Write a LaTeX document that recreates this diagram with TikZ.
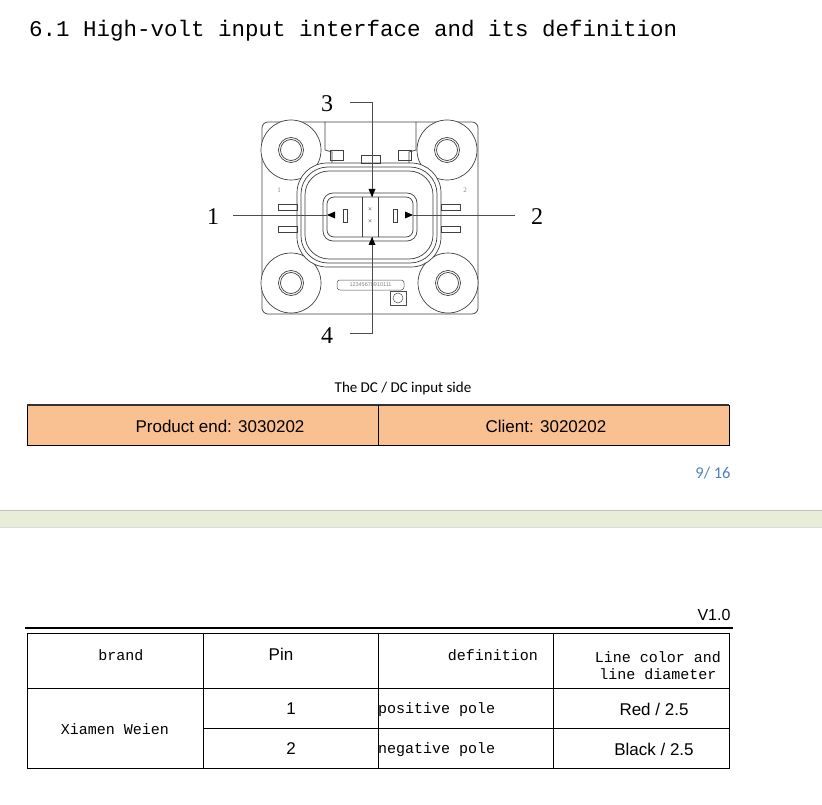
\documentclass[tikz,border=0pt]{standalone}
\usepackage{fontspec}
\setmainfont{Liberation Serif}
\newfontfamily\mono{Liberation Mono}
\newfontfamily\sans{Liberation Sans}
\newfontfamily\carl{Carlito}
\definecolor{peach}{RGB}{249,192,145}
\definecolor{pgblue}{RGB}{79,129,189}
\definecolor{band}{RGB}{232,237,218}
\begin{document}
\begin{tikzpicture}[x=1pt,y=-1pt,
  dr/.style={line width=0.7pt,black!75},
  thin/.style={line width=0.5pt,black!70},
  tri/.style={fill=black},
  cell/.style={line width=0.6pt},
  mt/.style={font=\mono\fontsize{15}{17}\selectfont},
  st/.style={font=\sans\fontsize{17}{19}\selectfont}]
\useasboundingbox (0,0) rectangle (822,805);
\node[anchor=west,inner sep=0,font=\mono\fontsize{22.5}{24}\selectfont] (title) at (29,31) {6.1 High-volt input interface and its definition};
% connector body
\draw[dr,rounded corners=6] (262,122) rectangle (478,314);
\foreach \n/\x/\y in {a/291/150,b/447/150,c/291/283,d/448/283}{
  \draw[dr,fill=white] (\x,\y) circle (30);
  \draw[dr] (\x,\y) circle (12.5);
  \draw[dr] (\x,\y) circle (10.5);
}
\draw[dr,fill=white,rounded corners=30] (297,163) rectangle (441,267);
\draw[dr,rounded corners=27] (301,167) rectangle (437,263);
\draw[dr,rounded corners=24] (305,171) rectangle (433,259);
% top tabs
\draw[dr] (325,122) -- (325,150) -- (332,152) -- (332,163);
\draw[dr] (416,122) -- (416,150) -- (409,152) -- (409,163);
\draw[dr] (330,150) rectangle (343,160);
\draw[dr] (398,150) rectangle (411,160);
\draw[dr] (361,155) rectangle (380,163);
% side tabs
\draw[dr] (278,204) rectangle (297,210); \draw[dr] (278,226) rectangle (297,232);
\draw[dr] (441,204) rectangle (460,210); \draw[dr] (441,226) rectangle (460,232);
\node[font=\fontsize{7}{8}\selectfont,gray] (s1) at (279,190) {1};
\node[font=\fontsize{7}{8}\selectfont,gray] (s2) at (465,190) {2};
% pin housing
\draw[dr,rounded corners=10] (323,193) rectangle (417,241);
\draw[dr,rounded corners=7] (327,197) rectangle (413,237);
\draw[dr] (362,197) -- (362,237); \draw[dr] (378,197) -- (378,237);
\draw[dr] (343,209) rectangle (347,222); \draw[dr] (393,209) rectangle (397,222);
\node[font=\fontsize{5}{6}\selectfont] (x1) at (370,209) {$\times$};
\node[font=\fontsize{5}{6}\selectfont] (x2) at (370,221) {$\times$};
% leaders
\node[font=\fontsize{24}{26}\selectfont] (n1) at (213,217) {1};
\node[font=\fontsize{24}{26}\selectfont] (n2) at (537,217) {2};
\node[font=\fontsize{24}{26}\selectfont] (n3) at (327,104) {3};
\node[font=\fontsize{24}{26}\selectfont] (n4) at (327,336) {4};
\coordinate (p1) at (327,215); \coordinate (p2) at (413,215);
\coordinate (p3) at (372,197); \coordinate (p4) at (372,237);
\draw[thin] (233,215) -- (p1); \draw[thin] (p2) -- (515,215);
\draw[thin] (350,102) -- (372,102) -- (p3);
\draw[thin] (350,333) -- (372,333) -- (p4);
\fill[tri] (p1) -- ++(8,-3.5) -- ++(0,7) -- cycle;
\fill[tri] (p2) -- ++(-8,-3.5) -- ++(0,7) -- cycle;
\fill[tri] (p3) -- ++(-3.5,-8) -- ++(7,0) -- cycle;
\fill[tri] (p4) -- ++(-3.5,8) -- ++(7,0) -- cycle;
\draw[thin,rounded corners=3] (337,280) rectangle (404,290);
\node[font=\sans\fontsize{5.5}{6}\selectfont,gray] (code) at (370.5,285) {12345678910111};
\draw[thin] (390,291) rectangle (406,305);
\draw[thin] (398,298) circle (5);
% caption and table 1
\node[font=\carl\fontsize{15}{17}\selectfont] (cap) at (403,388) {The DC / DC input side};
\fill[peach] (27,405) rectangle (729,445);
\draw[cell] (27,405) rectangle (729,445);
\draw[line width=1.5pt,black!80] (27,405) -- (729,405);
\draw[cell] (378,405) -- (378,445);
\node[st] (pe) at (220,426) {Product end: 3030202};
\node[st] (cl) at (546,426) {Client: 3020202};
\node[font=\carl\fontsize{16.5}{18}\selectfont,text=pgblue] (pg) at (713,473) {9/ 16};
% band
\fill[band] (0,510) rectangle (822,527);
\draw[black!25,line width=0.8pt] (0,510) -- (822,510);
\draw[black!15,line width=0.6pt] (0,527) -- (822,527);
% table 2
\node[font=\sans\fontsize{16}{18}\selectfont] (v) at (714,615) {V1.0};
\draw[line width=1.4pt] (25,628) -- (733,628);
\draw[cell] (27,633) rectangle (729,768);
\draw[cell] (27,688) -- (729,688);
\draw[cell] (203,728) -- (729,728);
\foreach \x in {203,378,553} \draw[cell] (\x,633) -- (\x,768);
\node[mt] (h1) at (121,655) {brand};
\node[st] (h2) at (281,654) {Pin};
\node[mt] (h3) at (493,655) {definition};
\node[mt,align=center] (h4) at (658,666) {Line color and\\line diameter};
\node[mt] (b) at (115,729) {Xiamen Weien};
\node[st] (r1) at (291,709) {1};
\node[st] (r2) at (291,749) {2};
\node[mt,anchor=west,inner sep=0] (d1) at (378,710) {positive pole};
\node[mt,anchor=west,inner sep=0] (d2) at (378,750) {negative pole};
\node[st] (c1) at (654,709) {Red / 2.5};
\node[st] (c2) at (654,749) {Black / 2.5};
\end{tikzpicture}
\end{document}
